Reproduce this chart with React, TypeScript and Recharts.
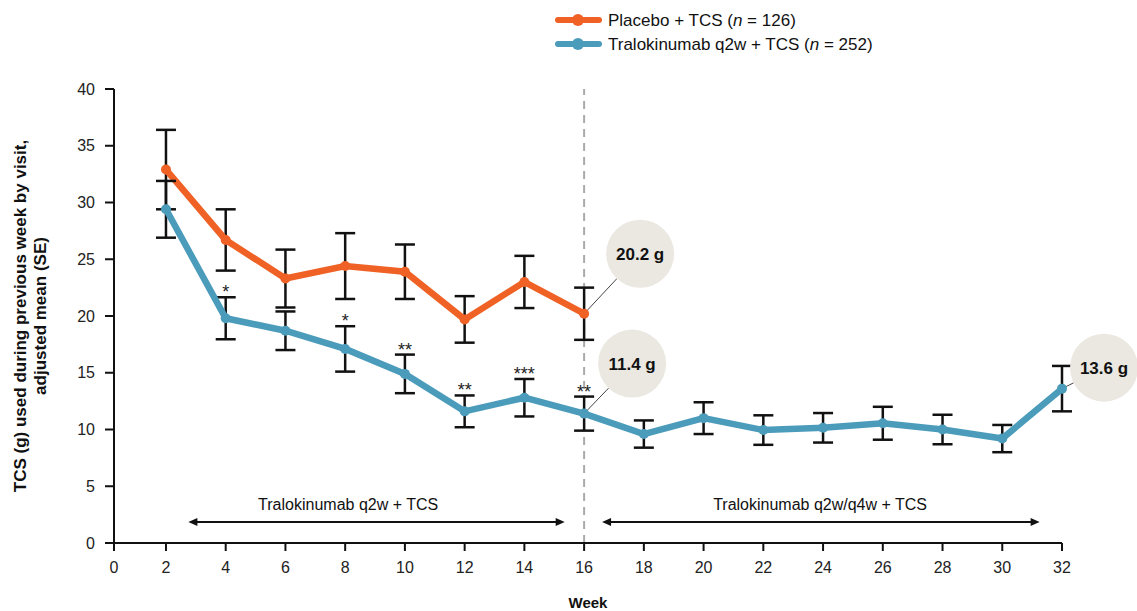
import React from 'react';
import { LineChart, Line, XAxis, YAxis, ErrorBar, ReferenceLine, ReferenceDot } from 'recharts';

const weeks = [2, 4, 6, 8, 10, 12, 14, 16, 18, 20, 22, 24, 26, 28, 30, 32];
const placeboMean = [32.9, 26.7, 23.3, 24.4, 23.9, 19.7, 23.0, 20.2];
const placeboSe = [3.5, 2.7, 2.55, 2.9, 2.4, 2.05, 2.3, 2.3];
const traloMean = [29.4, 19.8, 18.7, 17.1, 14.9, 11.6, 12.8, 11.4, 9.6, 11.0, 9.95, 10.15, 10.55, 10.0, 9.2, 13.6];
const traloSe = [2.5, 1.85, 1.7, 2.0, 1.7, 1.4, 1.65, 1.5, 1.2, 1.4, 1.3, 1.3, 1.45, 1.3, 1.2, 2.0];
const traloSig = ['', '*', '', '*', '**', '**', '***', '**', '', '', '', '', '', '', '', ''];

const weekTicks = [0, 2, 4, 6, 8, 10, 12, 14, 16, 18, 20, 22, 24, 26, 28, 30, 32];
const yTicks = [0, 5, 10, 15, 20, 25, 30, 35, 40];

const periods = [
  { label: 'Tralokinumab q2w + TCS', from: 2.75, to: 15.35, labelAt: 8.1 },
  { label: 'Tralokinumab q2w/q4w + TCS', from: 16.6, to: 31.25, labelAt: 23.9 },
];

const callouts = [
  { week: 16, value: 20.2, text: '20.2 g', dx: 56, dy: -60 },
  { week: 16, value: 11.4, text: '11.4 g', dx: 48, dy: -50 },
  { week: 32, value: 13.6, text: '13.6 g', dx: 42, dy: -21 },
];

const X_START = 0.26;
const ORANGE = '#ef6125';
const BLUE = '#4b9bbb';
const FONT = '"Liberation Sans", Arial, Helvetica, sans-serif';

const data = weeks.map((w, i) => ({
  week: w,
  placebo: i < placeboMean.length ? placeboMean[i] : null,
  placeboErr: i < placeboSe.length ? placeboSe[i] : null,
  tralo: traloMean[i],
  traloErr: traloSe[i],
}));

const CalloutShape = (dx: number, dy: number, text: string) => (props: any) => {
  const { cx, cy } = props;
  const r = 34;
  const ccx = cx + dx;
  const ccy = cy + dy;
  const d = Math.sqrt(dx * dx + dy * dy);
  const ex = cx + (dx * (d - r)) / d;
  const ey = cy + (dy * (d - r)) / d;
  return (
    <g>
      <line x1={cx} y1={cy} x2={ex} y2={ey} stroke="#444" strokeWidth={1} />
      <circle cx={ccx} cy={ccy} r={r} fill="#ebe8e2" />
      <text x={ccx} y={ccy + 6} textAnchor="middle" fontSize={17} fontWeight="bold" fill="#111" fontFamily={FONT}>
        {text}
      </text>
    </g>
  );
};

const StarShape = (label: string) => (props: any) => (
  <text x={props.cx} y={props.cy + 1} textAnchor="middle" fontSize={18} fill="#222" fontFamily={FONT}>
    {label}
  </text>
);

const ArrowShape = (p: { label: string; from: number; to: number; labelAt: number }) => (props: any) => {
  const { x1, y1, x2 } = props;
  const y = y1;
  const ah = 9;
  const tx = x1 + ((p.labelAt - p.from) / (p.to - p.from)) * (x2 - x1);
  return (
    <g>
      <line x1={x1 + 4} y1={y} x2={x2 - 4} y2={y} stroke="#111" strokeWidth={2} />
      <polygon points={`${x1},${y} ${x1 + ah},${y - 4} ${x1 + ah},${y + 4}`} fill="#111" />
      <polygon points={`${x2},${y} ${x2 - ah},${y - 4} ${x2 - ah},${y + 4}`} fill="#111" />
      <text x={tx} y={y - 12} textAnchor="middle" fontSize={16} fill="#111" fontFamily={FONT}>
        {p.label}
      </text>
    </g>
  );
};

const legendItems = [
  { color: ORANGE, name: 'Placebo + TCS', n: '126' },
  { color: BLUE, name: 'Tralokinumab q2w + TCS', n: '252' },
];

const ChartLegend = () => (
  <svg width={360} height={56} style={{ position: 'absolute', left: 554, top: 8 }}>
    {legendItems.map((it, i) => (
      <g key={it.name} transform={`translate(0, ${i * 24 + 12})`}>
        <line x1={4} y1={0} x2={45} y2={0} stroke={it.color} strokeWidth={6} strokeLinecap="round" />
        <circle cx={24} cy={0} r={6} fill={it.color} />
        <text x={54} y={6} fontSize={17} fill="#111" fontFamily={FONT}>
          {it.name} (<tspan fontStyle="italic">n</tspan> = {it.n})
        </text>
      </g>
    ))}
  </svg>
);

const YLabel = (props: any) => {
  const { viewBox } = props;
  const cy = viewBox.y + viewBox.height / 2;
  const x = 30;
  return (
    <text transform={`rotate(-90, ${x}, ${cy})`} x={x} y={cy} textAnchor="middle" fontSize={17} fontWeight="bold" fill="#111" fontFamily={FONT}>
      <tspan x={x} dy={-4}>TCS (g) used during previous week by visit,</tspan>
      <tspan x={x} dy={20}>adjusted mean (SE)</tspan>
    </text>
  );
};

const XLabel = (props: any) => {
  const { viewBox } = props;
  return (
    <text x={viewBox.x + viewBox.width / 2} y={viewBox.y + 65} textAnchor="middle" fontSize={15} fontWeight="bold" fill="#111" fontFamily={FONT}>
      Week
    </text>
  );
};

export default function App() {
  return (
    <div style={{ position: 'absolute', left: 0, top: 0, width: 1137, height: 611, background: '#fff' }}>
      <ChartLegend />
      <LineChart width={1137} height={611} data={data} margin={{ top: 89, right: 75, bottom: 0, left: 0 }}>
        <XAxis
          type="number"
          dataKey="week"
          domain={[X_START, 32]}
          ticks={weekTicks.map((t) => Math.max(t, X_START))}
          tickFormatter={(v: number) => String(Math.round(v))}
          height={68}
          tickSize={8}
          tickMargin={11}
          axisLine={{ stroke: '#111', strokeWidth: 2 }}
          tickLine={{ stroke: '#111', strokeWidth: 2 }}
          tick={{ fontSize: 16, fill: '#222', fontFamily: FONT }}
          label={<XLabel />}
        />
        <YAxis
          type="number"
          domain={[0, 40]}
          ticks={yTicks}
          width={114}
          tickSize={9}
          tickMargin={10}
          axisLine={{ stroke: '#111', strokeWidth: 2 }}
          tickLine={{ stroke: '#111', strokeWidth: 2 }}
          tick={{ fontSize: 16, fill: '#222', fontFamily: FONT }}
          label={<YLabel />}
        />
        <ReferenceLine x={16} stroke="#aaaaaa" strokeWidth={2} strokeDasharray="8 6" />
        {periods.map((p) => (
          <ReferenceLine
            key={p.label}
            segment={[{ x: p.from, y: 1.85 }, { x: p.to, y: 1.85 }]}
            shape={ArrowShape(p)}
          />
        ))}
        <Line
          dataKey="placebo"
          stroke={ORANGE}
          strokeWidth={6.5}
          dot={{ r: 5, fill: ORANGE, stroke: 'none' }}
          isAnimationActive={false}
          connectNulls={false}
        >
          <ErrorBar dataKey="placeboErr" direction="y" width={10} stroke="#111" strokeWidth={2.5} />
        </Line>
        <Line
          dataKey="tralo"
          stroke={BLUE}
          strokeWidth={6.5}
          dot={{ r: 5, fill: BLUE, stroke: 'none' }}
          isAnimationActive={false}
        >
          <ErrorBar dataKey="traloErr" direction="y" width={10} stroke="#111" strokeWidth={2.5} />
        </Line>
        {weeks.map((w, i) =>
          traloSig[i] ? (
            <ReferenceDot key={'s' + w} x={w} y={traloMean[i] + traloSe[i]} r={0} shape={StarShape(traloSig[i])} />
          ) : null
        )}
        {callouts.map((c) => (
          <ReferenceDot key={c.text} x={c.week} y={c.value} r={0} shape={CalloutShape(c.dx, c.dy, c.text)} />
        ))}
      </LineChart>
    </div>
  );
}
